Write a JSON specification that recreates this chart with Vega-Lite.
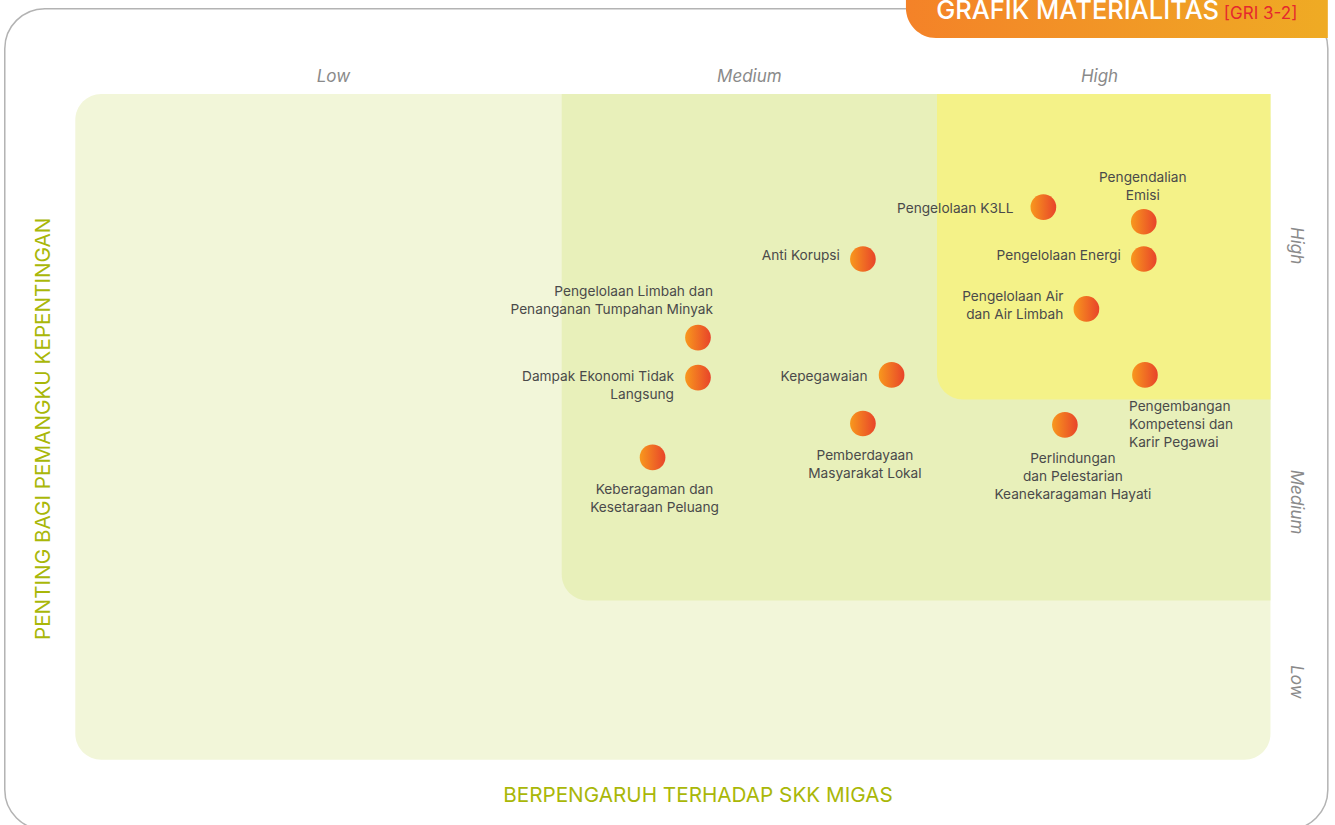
{
  "$schema": "https://vega.github.io/schema/vega-lite/v6.json",
  "width": 1335,
  "height": 825,
  "padding": 0,
  "autosize": {"type": "none"},
  "background": "white",
  "config": {"view": {"stroke": null}, "font": "Inter"},
  "datasets": {
    "frame": [{"s": -0.59, "s2": 10.48, "t": -1.05, "t2": 11.28}],
    "tab": [{"s": 6.95, "s2": 10.48, "t": 10.84, "t2": 12.5}],
    "zones": [
      {"zone": "Low", "s": 0, "s2": 10, "t": 0, "t2": 10},
      {"zone": "Medium", "s": 4.07, "s2": 10, "t": 2.39, "t2": 10},
      {"zone": "High", "s": 7.21, "s2": 10, "t": 5.41, "t2": 10}
    ],
    "tabTitle": [{"text": "GRAFIK MATERIALITAS", "s": 9.57, "t": 11.13}],
    "tabRef": [{"text": "[GRI 3-2]", "s": 9.61, "t": 11.13}],
    "colHeads": [
      {"band": "Low", "s": 2.16, "t": 10.18},
      {"band": "Medium", "s": 5.64, "t": 10.18},
      {"band": "High", "s": 8.57, "t": 10.18}
    ],
    "rowHeads": [
      {"band": "High", "s": 10.21, "t": 7.72},
      {"band": "Medium", "s": 10.21, "t": 3.87},
      {"band": "Low", "s": 10.21, "t": 1.17}
    ],
    "xTitle": [{"text": "BERPENGARUH TERHADAP SKK MIGAS", "s": 5.21, "t": -0.63}],
    "yTitle": [{"text": "PENTING BAGI PEMANGKU KEPENTINGAN", "s": -0.26, "t": 4.97}],
    "topics": [
      {"label": "Pengelolaan K3LL", "s": 8.10, "t": 8.30},
      {"label": "Pengendalian\nEmisi", "s": 8.94, "t": 8.08},
      {"label": "Pengelolaan Energi", "s": 8.94, "t": 7.52},
      {"label": "Anti Korupsi", "s": 6.59, "t": 7.52},
      {"label": "Pengelolaan Air\ndan Air Limbah", "s": 8.46, "t": 6.77},
      {"label": "Pengelolaan Limbah dan\nPenanganan Tumpahan Minyak", "s": 5.21, "t": 6.34},
      {"label": "Dampak Ekonomi Tidak\nLangsung", "s": 5.21, "t": 5.74},
      {"label": "Kepegawaian", "s": 6.83, "t": 5.78},
      {"label": "Pengembangan\nKompetensi dan\nKarir Pegawai", "s": 8.95, "t": 5.78},
      {"label": "Pemberdayaan\nMasyarakat Lokal", "s": 6.59, "t": 5.05},
      {"label": "Perlindungan\ndan Pelestarian\nKeanekaragaman Hayati", "s": 8.28, "t": 5.03},
      {"label": "Keberagaman dan\nKesetaraan Peluang", "s": 4.83, "t": 4.54}
    ]
  },
  "encoding": {
    "x": {"field": "s", "type": "quantitative", "scale": {"domain": [-0.63, 10.54], "nice": false, "zero": false}, "axis": null},
    "y": {"field": "t", "type": "quantitative", "scale": {"domain": [-0.98, 11.41], "nice": false, "zero": false}, "axis": null}
  },
  "layer": [
    {
      "data": {"name": "zones"},
      "transform": [{"filter": "datum.zone === 'Low'"}],
      "mark": {"type": "rect", "color": "#f2f6d9", "cornerRadius": 26},
      "encoding": {"x2": {"field": "s2"}, "y2": {"field": "t2"}}
    },
    {
      "data": {"name": "zones"},
      "transform": [{"filter": "datum.zone === 'Medium'"}],
      "mark": {"type": "rect", "color": "#e8f0ba", "cornerRadiusBottomLeft": 26},
      "encoding": {"x2": {"field": "s2"}, "y2": {"field": "t2"}}
    },
    {
      "data": {"name": "zones"},
      "transform": [{"filter": "datum.zone === 'High'"}],
      "mark": {"type": "rect", "color": "#f4f288", "cornerRadiusBottomLeft": 26},
      "encoding": {"x2": {"field": "s2"}, "y2": {"field": "t2"}}
    },
    {
      "data": {"name": "frame"},
      "mark": {"type": "rect", "fillOpacity": 0, "fill": "white", "stroke": "#b3b3b3", "strokeWidth": 1.5, "cornerRadius": 40},
      "encoding": {"x2": {"field": "s2"}, "y2": {"field": "t2"}}
    },
    {
      "data": {"name": "tab"},
      "mark": {
        "type": "rect",
        "cornerRadiusBottomLeft": 30,
        "fill": {"gradient": "linear", "x1": 0, "y1": 0, "x2": 1, "y2": 0, "stops": [{"offset": 0, "color": "#f48228"}, {"offset": 1, "color": "#efab24"}]}
      },
      "encoding": {"x2": {"field": "s2"}, "y2": {"field": "t2"}}
    },
    {
      "data": {"name": "tabTitle"},
      "mark": {"type": "text", "align": "right", "baseline": "alphabetic", "fontSize": 25.5, "fontWeight": 500, "color": "white"},
      "encoding": {"text": {"field": "text"}}
    },
    {
      "data": {"name": "tabRef"},
      "mark": {"type": "text", "align": "left", "baseline": "alphabetic", "fontSize": 17, "color": "#e5282e"},
      "encoding": {"text": {"field": "text"}}
    },
    {
      "data": {"name": "colHeads"},
      "mark": {"type": "text", "align": "center", "baseline": "alphabetic", "fontSize": 17, "fontStyle": "italic", "color": "#8a8a8a"},
      "encoding": {"text": {"field": "band"}}
    },
    {
      "data": {"name": "rowHeads"},
      "mark": {"type": "text", "align": "center", "baseline": "middle", "angle": 90, "fontSize": 17, "fontStyle": "italic", "color": "#8a8a8a"},
      "encoding": {"text": {"field": "band"}}
    },
    {
      "data": {"name": "xTitle"},
      "mark": {"type": "text", "align": "center", "baseline": "alphabetic", "fontSize": 20.7, "color": "#a9b708"},
      "encoding": {"text": {"field": "text"}}
    },
    {
      "data": {"name": "yTitle"},
      "mark": {"type": "text", "align": "center", "baseline": "middle", "angle": 270, "fontSize": 20.7, "color": "#a9b708"},
      "encoding": {"text": {"field": "text"}}
    },
    {
      "data": {"name": "topics"},
      "transform": [{"filter": {"field": "label", "oneOf": ["Pengelolaan Energi", "Anti Korupsi"]}}],
      "mark": {"type": "text", "align": "right", "baseline": "middle", "dx": -23, "dy": -3, "fontSize": 13.7, "color": "#4a4a4a", "lineBreak": "\n", "lineHeight": 18},
      "encoding": {"text": {"field": "label"}}
    },
    {
      "data": {"name": "topics"},
      "transform": [{"filter": {"field": "label", "oneOf": ["Kepegawaian"]}}],
      "mark": {"type": "text", "align": "right", "baseline": "middle", "dx": -24, "dy": 2, "fontSize": 13.7, "color": "#4a4a4a", "lineBreak": "\n", "lineHeight": 18},
      "encoding": {"text": {"field": "label"}}
    },
    {
      "data": {"name": "topics"},
      "transform": [{"filter": {"field": "label", "oneOf": ["Pengelolaan K3LL"]}}],
      "mark": {"type": "text", "align": "right", "baseline": "middle", "dx": -30, "dy": 2, "fontSize": 13.7, "color": "#4a4a4a", "lineBreak": "\n", "lineHeight": 18},
      "encoding": {"text": {"field": "label"}}
    },
    {
      "data": {"name": "topics"},
      "transform": [{"filter": {"field": "label", "oneOf": ["Pengelolaan Air\ndan Air Limbah"]}}],
      "mark": {"type": "text", "align": "right", "baseline": "middle", "dx": -23, "dy": -12, "fontSize": 13.7, "color": "#4a4a4a", "lineBreak": "\n", "lineHeight": 18},
      "encoding": {"text": {"field": "label"}}
    },
    {
      "data": {"name": "topics"},
      "transform": [{"filter": {"field": "label", "oneOf": ["Dampak Ekonomi Tidak\nLangsung"]}}],
      "mark": {"type": "text", "align": "right", "baseline": "middle", "dx": -24, "dy": -1, "fontSize": 13.7, "color": "#4a4a4a", "lineBreak": "\n", "lineHeight": 18},
      "encoding": {"text": {"field": "label"}}
    },
    {
      "data": {"name": "topics"},
      "transform": [{"filter": {"field": "label", "oneOf": ["Pengelolaan Limbah dan\nPenanganan Tumpahan Minyak"]}}],
      "mark": {"type": "text", "align": "right", "baseline": "middle", "dx": 15, "dy": -46, "fontSize": 13.7, "color": "#4a4a4a", "lineBreak": "\n", "lineHeight": 18},
      "encoding": {"text": {"field": "label"}}
    },
    {
      "data": {"name": "topics"},
      "transform": [{"filter": {"field": "label", "oneOf": ["Pengendalian\nEmisi"]}}],
      "mark": {"type": "text", "align": "center", "baseline": "middle", "dx": -1, "dy": -44, "fontSize": 13.7, "color": "#4a4a4a", "lineBreak": "\n", "lineHeight": 18},
      "encoding": {"text": {"field": "label"}}
    },
    {
      "data": {"name": "topics"},
      "transform": [{"filter": {"field": "label", "oneOf": ["Pemberdayaan\nMasyarakat Lokal", "Keberagaman dan\nKesetaraan Peluang"]}}],
      "mark": {"type": "text", "align": "center", "baseline": "top", "dx": 2, "dy": 26, "fontSize": 13.7, "color": "#4a4a4a", "lineBreak": "\n", "lineHeight": 18},
      "encoding": {"text": {"field": "label"}}
    },
    {
      "data": {"name": "topics"},
      "transform": [{"filter": {"field": "label", "oneOf": ["Perlindungan\ndan Pelestarian\nKeanekaragaman Hayati"]}}],
      "mark": {"type": "text", "align": "center", "baseline": "top", "dx": 8, "dy": 27, "fontSize": 13.7, "color": "#4a4a4a", "lineBreak": "\n", "lineHeight": 18},
      "encoding": {"text": {"field": "label"}}
    },
    {
      "data": {"name": "topics"},
      "transform": [{"filter": {"field": "label", "oneOf": ["Pengembangan\nKompetensi dan\nKarir Pegawai"]}}],
      "mark": {"type": "text", "align": "left", "baseline": "top", "dx": -16, "dy": 25, "fontSize": 13.7, "color": "#4a4a4a", "lineBreak": "\n", "lineHeight": 18},
      "encoding": {"text": {"field": "label"}}
    },
    {
      "data": {"name": "topics"},
      "mark": {
        "type": "point",
        "shape": "circle",
        "filled": true,
        "size": 660,
        "opacity": 1,
        "strokeWidth": 0,
        "fill": {"gradient": "linear", "x1": 0, "y1": 0, "x2": 1, "y2": 0, "stops": [{"offset": 0, "color": "#f8981d"}, {"offset": 1, "color": "#e8442a"}]}
      },
      "encoding": {}
    }
  ]
}
